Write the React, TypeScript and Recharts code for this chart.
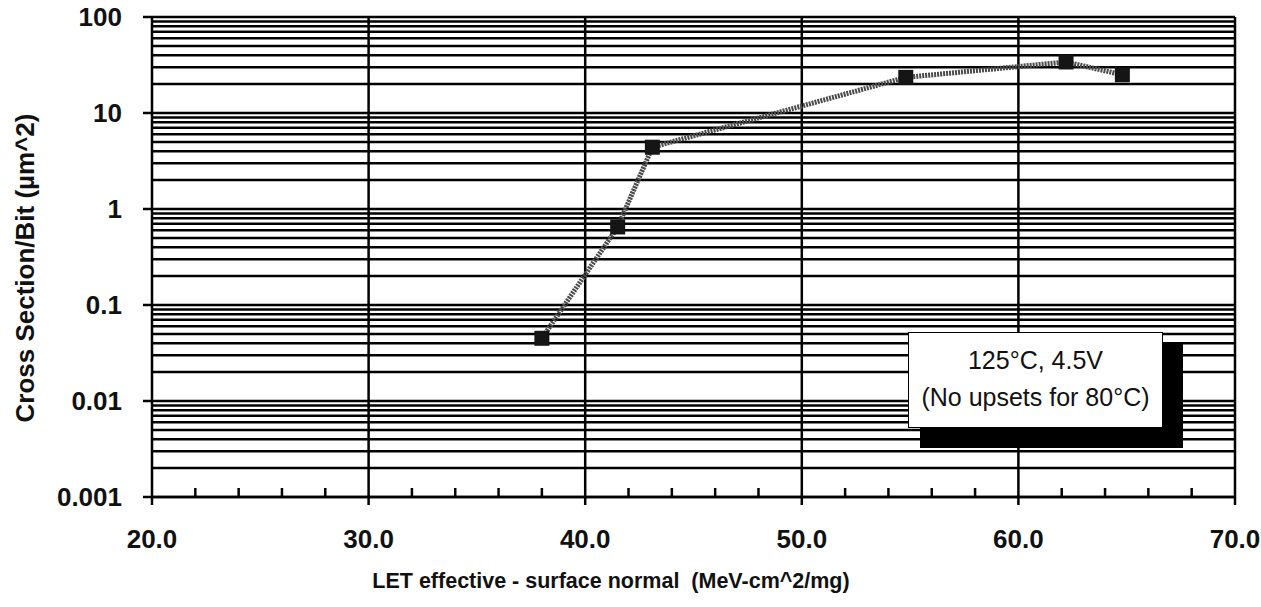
import { LineChart, Line, XAxis, YAxis, CartesianGrid, ReferenceLine } from 'recharts';

// measured points, 125C / 4.5V
const letValues = [38.0, 41.5, 43.1, 54.8, 62.2, 64.8];
const crossSection = [0.045, 0.65, 4.4, 23.5, 34, 25];

// x ticks every 2, labels only on the tens
const xTicks = [20, 22, 24, 26, 28, 30, 32, 34, 36, 38, 40, 42, 44, 46, 48, 50, 52, 54, 56, 58, 60, 62, 64, 66, 68, 70];
const xGridLines = [30, 40, 50, 60, 70];

// log decades and the 1..9 steps inside each one
const decades = [0.001, 0.01, 0.1, 1, 10];
const decadeLabels = ['0.001', '0.01', '0.1', '1', '10', '100'];
const steps = [1, 2, 3, 4, 5, 6, 7, 8, 9];

const yTicks = [
    ...decades.flatMap((d) => steps.map((s) => +(d * s).toPrecision(3))),
    100,
];

const data = letValues.map((x, i) => ({ x, y: crossSection[i] }));

const FONT = '"Liberation Sans", Arial, Helvetica, sans-serif';

const XTick = ({ x, y, payload }: any) => {
    const v = payload.value;
    if (v % 10 !== 0) {
        return <line x1={x} x2={x} y1={y} y2={y - 9} stroke="#000" strokeWidth={2.5} />;
    }
    return (
        <g>
            <line x1={x} x2={x} y1={y} y2={y + 8} stroke="#000" strokeWidth={2.5} />
            <text x={x} y={y + 51} textAnchor="middle" fontFamily={FONT} fontWeight="bold" fontSize={26} fill="#111">
                {v.toFixed(1)}
            </text>
        </g>
    );
};

const YTick = ({ x, y, payload }: any) => {
    const v = payload.value;
    const idx = [...decades, 100].findIndex((d) => Math.abs(d - v) < d * 1e-6);
    if (idx < 0) return <g />;
    return (
        <g>
            <line x1={x - 9} x2={x} y1={y} y2={y} stroke="#000" strokeWidth={2.5} />
            <text x={x - 30} y={y} dy="0.36em" textAnchor="end" fontFamily={FONT} fontWeight="bold" fontSize={26} fill="#111">
                {decadeLabels[idx]}
            </text>
        </g>
    );
};

const Marker = ({ cx, cy }: any) => (
    <rect x={cx - 7.5} y={cy - 7.5} width={15} height={15} fill="#151515" />
);

export default function App() {
    return (
        <div style={{ position: 'absolute', left: 0, top: 0, width: 1261, height: 607, background: '#fff' }}>
            <LineChart
                width={1261}
                height={607}
                data={data}
                margin={{ top: 17, right: 26, bottom: 0, left: 0 }}
            >
                <CartesianGrid vertical={false} stroke="#000" strokeWidth={2.5} />
                {xGridLines.map((v) => (
                    <ReferenceLine key={v} x={v} stroke="#000" strokeWidth={2.5} />
                ))}
                <XAxis
                    dataKey="x"
                    type="number"
                    domain={[20, 70]}
                    ticks={xTicks}
                    interval={0}
                    height={110}
                    tick={<XTick />}
                    tickLine={false}
                    tickSize={0}
                    tickMargin={0}
                    axisLine={{ stroke: '#000', strokeWidth: 2.5 }}
                    label={{
                        content: () => (
                            <text x={611} y={588} textAnchor="middle" fontFamily={FONT} fontWeight="bold" fontSize={21.5} fill="#111" style={{ whiteSpace: 'pre' }}>
                                LET effective - surface normal  (MeV-cm^2/mg)
                            </text>
                        ),
                    }}
                />
                <YAxis
                    dataKey="y"
                    type="number"
                    scale="log"
                    domain={[0.001, 100]}
                    allowDataOverflow
                    ticks={yTicks}
                    interval={0}
                    width={152}
                    tick={<YTick />}
                    tickLine={false}
                    tickSize={0}
                    tickMargin={0}
                    axisLine={{ stroke: '#000', strokeWidth: 2.5 }}
                    label={{
                        content: () => (
                            <text x={34} y={268} transform="rotate(-90 34 268)" textAnchor="middle" fontFamily={FONT} fontWeight="bold" fontSize={26} fill="#111">
                                Cross Section/Bit (µm^2)
                            </text>
                        ),
                    }}
                />
                <Line
                    type="linear"
                    dataKey="y"
                    stroke="#4a4a4a"
                    strokeWidth={5}
                    strokeDasharray="2 1"
                    dot={<Marker />}
                    activeDot={false}
                    isAnimationActive={false}
                />
            </LineChart>
            <div style={{ position: 'absolute', left: 920, top: 343, width: 263, height: 105, background: '#000' }} />
            <div
                style={{
                    position: 'absolute',
                    left: 908,
                    top: 332,
                    width: 255,
                    height: 96,
                    boxSizing: 'border-box',
                    background: '#fff',
                    border: '1px solid #000',
                    fontFamily: FONT,
                    fontSize: 25,
                    color: '#111',
                    textAlign: 'center',
                    lineHeight: '37px',
                    paddingTop: 9,
                }}
            >
                <div>125°C, 4.5V</div>
                <div>(No upsets for 80°C)</div>
            </div>
        </div>
    );
}
